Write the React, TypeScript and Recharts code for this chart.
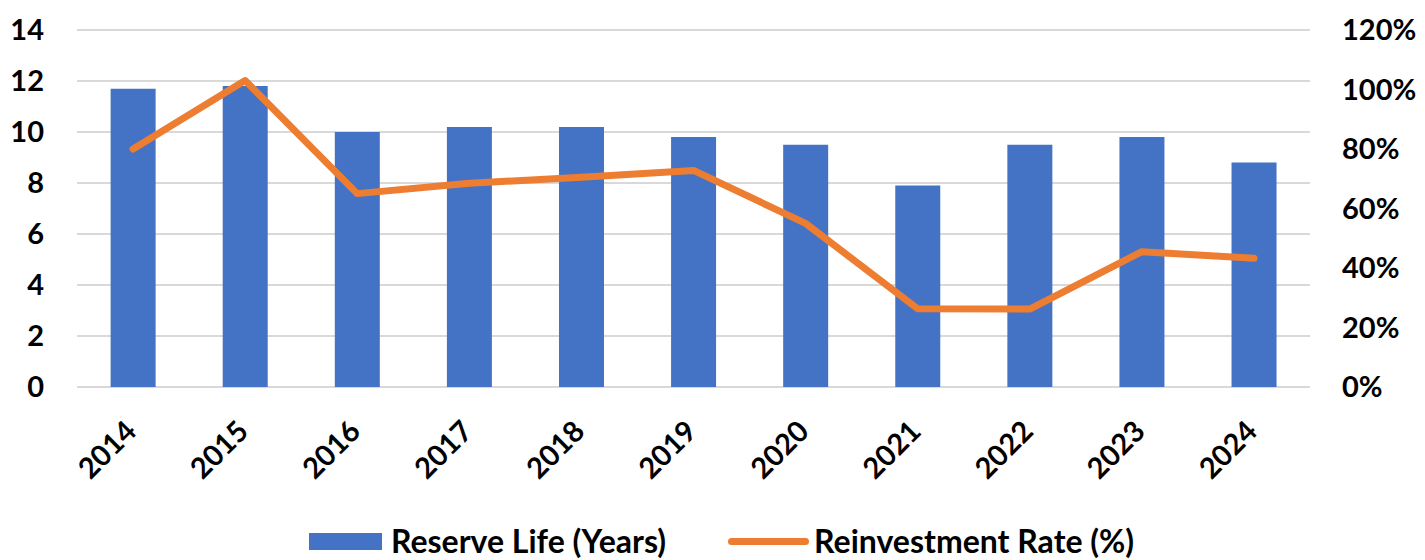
import { ComposedChart, Bar, Line, XAxis, YAxis, CartesianGrid, Legend } from "recharts"

const years = ["2014", "2015", "2016", "2017", "2018", "2019", "2020", "2021", "2022", "2023", "2024"]
const reserveLife = [11.7, 11.8, 10.0, 10.2, 10.2, 9.8, 9.5, 7.9, 9.5, 9.8, 8.8]
const reinvestmentRate = [80, 103, 65, 68.5, 70.5, 72.8, 55, 26.3, 26.2, 45.5, 43.3]
const leftTicks = [0, 2, 4, 6, 8, 10, 12, 14]
const rightTicks = [0, 20, 40, 60, 80, 100, 120]

const BLUE = "#4472C4"
const ORANGE = "#ED7D31"
const FONT = "Lato, 'Noto Sans', sans-serif"

const data = years.map((year, i) => ({
  year,
  reserveLife: reserveLife[i],
  reinvestmentRate: reinvestmentRate[i],
}))

function YearTick({ x, y, payload }: any) {
  return (
    <g transform={`translate(${x + 5},${y + 46})`}>
      <text
        textAnchor="end"
        transform="rotate(-45)"
        fontSize={29}
        fontWeight={700}
        fontFamily={FONT}
        fill="#000"
      >
        {payload.value}
      </text>
    </g>
  )
}

function ChartLegend() {
  const labelStyle = { fontSize: 32, lineHeight: 1, fontWeight: 700, color: "#000", fontFamily: FONT }
  return (
    <div
      style={{
        display: "flex",
        alignItems: "center",
        justifyContent: "center",
        height: 60,
        paddingTop: 22,
        paddingLeft: 18,
        boxSizing: "border-box",
      }}
    >
      <div style={{ display: "flex", alignItems: "center" }}>
        <div style={{ width: 73, height: 17, background: BLUE, marginRight: 9 }} />
        <span style={labelStyle}>Reserve Life (Years)</span>
      </div>
      <div style={{ display: "flex", alignItems: "center", marginLeft: 62 }}>
        <div style={{ width: 81, height: 7, borderRadius: 4, background: ORANGE, marginRight: 5 }} />
        <span style={labelStyle}>Reinvestment Rate (%)</span>
      </div>
    </div>
  )
}

export default function App() {
  return (
    <div style={{ position: "absolute", left: 0, top: 0, width: 1425, height: 560, background: "#fff", fontFamily: FONT }}>
      <ComposedChart
        width={1425}
        height={560}
        data={data}
        margin={{ top: 30, right: 0, bottom: 0, left: 0 }}
        barCategoryGap="30%"
      >
        <CartesianGrid yAxisId="left" vertical={false} stroke="#D9D9D9" strokeWidth={2} />
        <XAxis
          dataKey="year"
          axisLine={false}
          tickLine={false}
          tickSize={0}
          tickMargin={0}
          height={113}
          interval={0}
          tick={<YearTick />}
        />
        <YAxis
          yAxisId="left"
          orientation="left"
          width={77}
          domain={[0, 14]}
          ticks={leftTicks}
          axisLine={false}
          tickLine={false}
          tickSize={0}
          tickMargin={33}
          tick={{ fontSize: 29, fontWeight: 700, fill: "#000", fontFamily: FONT }}
        />
        <YAxis
          yAxisId="right"
          orientation="right"
          width={115}
          domain={[0, 120]}
          ticks={rightTicks}
          axisLine={false}
          tickLine={false}
          tickSize={0}
          tickMargin={32}
          tickFormatter={(v) => `${v}%`}
          tick={{ fontSize: 29, fontWeight: 700, fill: "#000", fontFamily: FONT }}
        />
        <Legend
          verticalAlign="bottom"
          height={60}
          content={<ChartLegend />}
          wrapperStyle={{ height: 60 }}
        />
        <Bar
          yAxisId="left"
          dataKey="reserveLife"
          name="Reserve Life (Years)"
          fill={BLUE}
          isAnimationActive={false}
        />
        <Line
          yAxisId="right"
          type="linear"
          dataKey="reinvestmentRate"
          name="Reinvestment Rate (%)"
          stroke={ORANGE}
          strokeWidth={7}
          strokeLinejoin="round"
          strokeLinecap="round"
          dot={false}
          activeDot={false}
          isAnimationActive={false}
        />
      </ComposedChart>
    </div>
  )
}
